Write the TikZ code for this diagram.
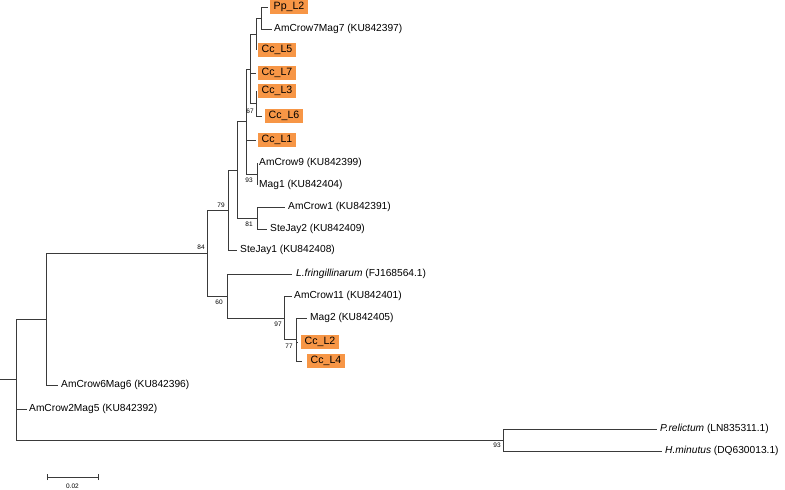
\documentclass[tikz,border=0pt]{standalone}
\usepackage{fontspec}
\setmainfont{Liberation Sans}
\definecolor{hlbox}{HTML}{F79646}
\definecolor{branchcol}{HTML}{3A3A3A}
\tikzset{
 br/.style={line width=0.8pt, draw=branchcol},
 lbl/.style={anchor=west, inner sep=0pt, font=\fontsize{10.2}{12}\selectfont},
 hl/.style={anchor=west, fill=hlbox, inner xsep=3.5pt, inner ysep=0pt, minimum height=14pt, font=\fontsize{10.6}{12}\selectfont},
 bs/.style={inner sep=0pt, font=\fontsize{6.5}{7}\selectfont}
}
\begin{document}
\begin{tikzpicture}[x=1pt,y=-1pt]
\useasboundingbox (0,0) rectangle (785,490);
% internal nodes
\coordinate (stub) at (0,379.5);
\coordinate (root) at (16,379.5);
\coordinate (n46) at (46,319);
\coordinate (n84) at (207,253);
\coordinate (n79) at (228,210);
\coordinate (nX) at (237,170);
\coordinate (nY) at (246,121.5);
\coordinate (nZ) at (250,69);
\coordinate (nW) at (256,34);
\coordinate (nV) at (261,18);
\coordinate (n67) at (256,103.5);
\coordinate (n93a) at (257,174);
\coordinate (n81) at (257,218);
\coordinate (n60) at (227,296);
\coordinate (n97) at (284,318);
\coordinate (n77) at (296,339.5);
\coordinate (nout) at (503,440);
% tips
\coordinate (tPp) at (268,7);
\coordinate (tAC7) at (272,29);
\coordinate (tL5) at (256,50);
\coordinate (tL7) at (256,73);
\coordinate (tL3) at (256,91);
\coordinate (tL6) at (262,116);
\coordinate (tL1) at (256,140);
\coordinate (tAC9) at (257,163);
\coordinate (tMag1) at (257,185);
\coordinate (tAC1) at (285,207);
\coordinate (tSJ2) at (267,229);
\coordinate (tSJ1) at (237,250);
\coordinate (tLf) at (292,274);
\coordinate (tAC11) at (292,296);
\coordinate (tMag2) at (307,318);
\coordinate (tL2) at (298,342);
\coordinate (tL4) at (302,361);
\coordinate (tAC6) at (58,385);
\coordinate (tAC2) at (27,409);
\coordinate (tPr) at (657,429);
\coordinate (tHm) at (662,451);
% branches
\draw[br] (stub) -- (root);
\foreach \p/\c in {root/n46, root/tAC2, root/nout, n46/n84, n46/tAC6, n84/n79, n84/n60,
  n79/nX, n79/tSJ1, nX/nY, nX/n81, nY/nZ, nY/tL1, nY/n93a, nZ/nW, nZ/tL7, nZ/n67,
  nW/nV, nW/tL5, nV/tPp, nV/tAC7, n67/tL3, n67/tL6, n93a/tAC9, n93a/tMag1,
  n81/tAC1, n81/tSJ2, n60/tLf, n60/n97, n97/tAC11, n97/n77, n77/tMag2, n77/tL2, n77/tL4,
  nout/tPr, nout/tHm}
  \draw[br] (\p) |- (\c);
% tip labels
\node[hl] (lPp) at ([xshift=2pt]tPp) {Pp\_L2};
\node[lbl] (lAC7) at ([xshift=2pt]tAC7) {AmCrow7Mag7 (KU842397)};
\node[hl] (lL5) at ([xshift=2pt]tL5) {Cc\_L5};
\node[hl] (lL7) at ([xshift=2pt]tL7) {Cc\_L7};
\node[hl] (lL3) at ([xshift=2pt]tL3) {Cc\_L3};
\node[hl] (lL6) at ([xshift=3pt]tL6) {Cc\_L6};
\node[hl] (lL1) at ([xshift=2pt]tL1) {Cc\_L1};
\node[lbl] (lAC9) at ([xshift=2pt]tAC9) {AmCrow9 (KU842399)};
\node[lbl] (lMag1) at ([xshift=2pt]tMag1) {Mag1 (KU842404)};
\node[lbl] (lAC1) at ([xshift=3pt]tAC1) {AmCrow1 (KU842391)};
\node[lbl] (lSJ2) at ([xshift=3pt]tSJ2) {SteJay2 (KU842409)};
\node[lbl] (lSJ1) at ([xshift=3pt]tSJ1) {SteJay1 (KU842408)};
\node[lbl] (lLf) at ([xshift=4pt]tLf) {\textit{L.fringillinarum} (FJ168564.1)};
\node[lbl] (lAC11) at ([xshift=2pt]tAC11) {AmCrow11 (KU842401)};
\node[lbl] (lMag2) at ([xshift=3pt]tMag2) {Mag2 (KU842405)};
\node[hl] (lL2) at ([xshift=3pt]tL2) {Cc\_L2};
\node[hl] (lL4) at ([xshift=5pt]tL4) {Cc\_L4};
\node[lbl] (lAC6) at ([xshift=3pt]tAC6) {AmCrow6Mag6 (KU842396)};
\node[lbl] (lAC2) at ([xshift=2pt]tAC2) {AmCrow2Mag5 (KU842392)};
\node[lbl] (lPr) at ([xshift=3pt]tPr) {\textit{P.relictum} (LN835311.1)};
\node[lbl] (lHm) at ([xshift=3pt]tHm) {\textit{H.minutus} (DQ630013.1)};
% bootstrap values
\node[bs] (b84) at ([shift={(-6,-6)}]n84) {84};
\node[bs] (b79) at ([shift={(-7,-5)}]n79) {79};
\node[bs] (b93a) at ([shift={(-8,6)}]n93a) {93};
\node[bs] (b81) at ([shift={(-8,6)}]n81) {81};
\node[bs] (b67) at ([shift={(-6,8)}]n67) {67};
\node[bs] (b60) at ([shift={(-8,6)}]n60) {60};
\node[bs] (b97) at ([shift={(-6,6)}]n97) {97};
\node[bs] (b77) at ([shift={(-7,7)}]n77) {77};
\node[bs] (b93o) at ([shift={(-6,5)}]nout) {93};
% scale bar
\coordinate (sb1) at (47,477);
\coordinate (sb2) at (98,477);
\draw[br] (sb1) -- (sb2);
\draw[br] ([yshift=-3pt]sb1) -- ([yshift=3pt]sb1);
\draw[br] ([yshift=-3pt]sb2) -- ([yshift=3pt]sb2);
\node[bs] (sbl) at (72.5,486) {0.02};
\end{tikzpicture}
\end{document}
